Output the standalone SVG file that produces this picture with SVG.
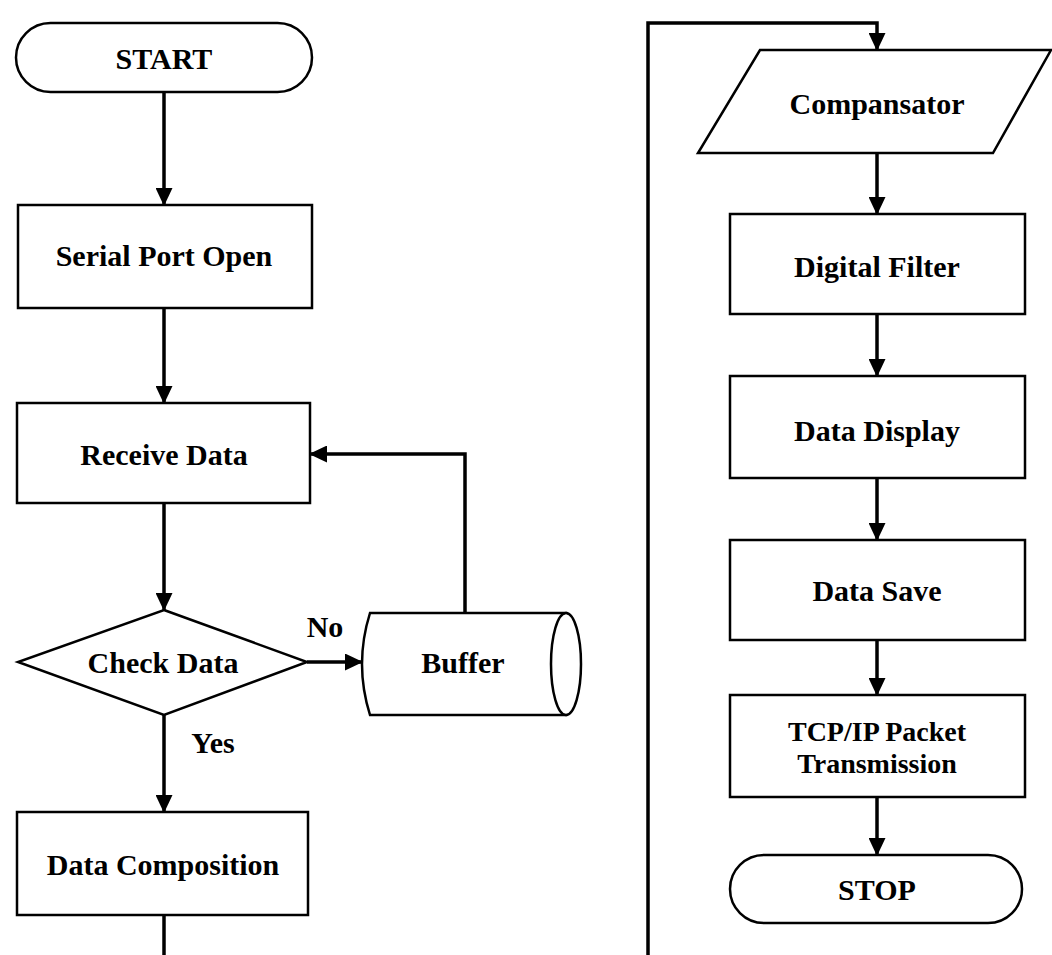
<svg xmlns="http://www.w3.org/2000/svg" width="1052" height="955" viewBox="0 0 1052 955">
<defs>
<marker id="ah" markerUnits="userSpaceOnUse" markerWidth="18" markerHeight="17" viewBox="0 0 18 17" refX="17" refY="8.5" orient="auto">
<path d="M0,0 L18,8.5 L0,17 Z" fill="#000"/>
</marker>
<style>
.shape{fill:#fff;stroke:#000;stroke-width:2.5}
.lbl{font-family:"Liberation Serif","Times New Roman",serif;font-weight:bold;font-size:30px;fill:#000;text-anchor:middle;dominant-baseline:central}
.small{font-size:28px}
.conn{fill:none;stroke:#000;stroke-width:3.5}
</style>
</defs>
<rect width="1052" height="955" fill="#fff"/>
<g id="connectors">
<path class="conn" d="M164,92 V205" marker-end="url(#ah)"/>
<path class="conn" d="M164,308 V403" marker-end="url(#ah)"/>
<path class="conn" d="M164,503 V610" marker-end="url(#ah)"/>
<path class="conn" d="M307,662 H362" marker-end="url(#ah)"/>
<path class="conn" d="M465,613 V454 H310" marker-end="url(#ah)"/>
<path class="conn" d="M164,715 V812" marker-end="url(#ah)"/>
<path class="conn" d="M164,915 V955"/>
<path class="conn" d="M648,955 V23 H877 V50" marker-end="url(#ah)"/>
<path class="conn" d="M877,153 V214" marker-end="url(#ah)"/>
<path class="conn" d="M877,314 V376" marker-end="url(#ah)"/>
<path class="conn" d="M877,478 V540" marker-end="url(#ah)"/>
<path class="conn" d="M877,640 V695" marker-end="url(#ah)"/>
<path class="conn" d="M877,797 V855" marker-end="url(#ah)"/>
</g>
<g id="start">
<rect class="shape" x="16" y="23" width="296" height="69" rx="34.5" ry="34.5"/>
<text class="lbl" x="164" y="58">START</text>
</g>
<g id="serial-port-open">
<rect class="shape" x="18" y="205" width="294" height="103"/>
<text class="lbl" x="164" y="255">Serial Port Open</text>
</g>
<g id="receive-data">
<rect class="shape" x="17" y="403" width="293" height="100"/>
<text class="lbl" x="164" y="454">Receive Data</text>
</g>
<g id="check-data">
<path class="shape" d="M164,610 L307,662 L164,715 L18,662 Z"/>
<text class="lbl" x="163" y="662">Check Data</text>
</g>
<g id="buffer">
<path class="shape" d="M370,613 H566 V715 H370 Q354,664 370,613 Z"/>
<ellipse class="shape" cx="566" cy="664" rx="15" ry="51"/>
<text class="lbl" x="463" y="662">Buffer</text>
</g>
<g id="labels">
<text class="lbl" x="325" y="626">No</text>
<text class="lbl" x="213" y="742">Yes</text>
</g>
<g id="data-composition">
<rect class="shape" x="17" y="812" width="291" height="103"/>
<text class="lbl" x="163" y="864">Data Composition</text>
</g>
<g id="compansator">
<path class="shape" d="M760,50 H1051 L993,153 H698 Z"/>
<text class="lbl" x="877" y="103">Compansator</text>
</g>
<g id="digital-filter">
<rect class="shape" x="730" y="214" width="295" height="100"/>
<text class="lbl" x="877" y="266">Digital Filter</text>
</g>
<g id="data-display">
<rect class="shape" x="730" y="376" width="295" height="102"/>
<text class="lbl" x="877" y="430">Data Display</text>
</g>
<g id="data-save">
<rect class="shape" x="730" y="540" width="295" height="100"/>
<text class="lbl" x="877" y="590">Data Save</text>
</g>
<g id="tcp-ip">
<rect class="shape" x="730" y="695" width="295" height="102"/>
<text class="lbl small" x="877" y="731">TCP/IP Packet</text>
<text class="lbl small" x="877" y="763">Transmission</text>
</g>
<g id="stop">
<rect class="shape" x="730" y="855" width="292" height="68" rx="34" ry="34"/>
<text class="lbl" x="877" y="889">STOP</text>
</g>
</svg>
